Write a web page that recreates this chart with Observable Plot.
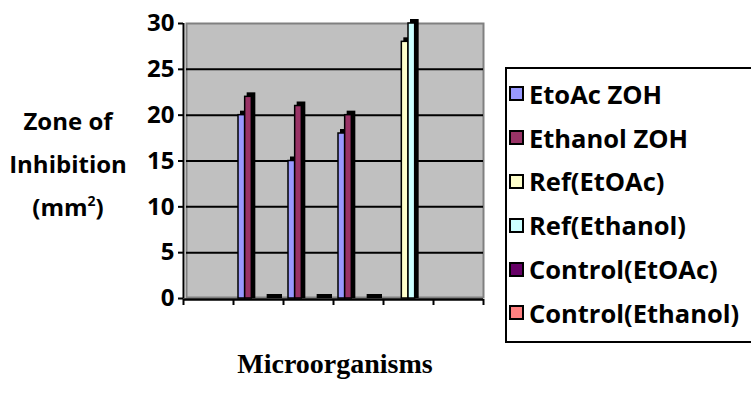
<!DOCTYPE html>
<html>
<head>
<meta charset="utf-8">
<script src="https://cdn.jsdelivr.net/npm/d3@7"></script>
<script src="https://cdn.jsdelivr.net/npm/@observablehq/plot@0.6"></script>
<style>
  html, body { margin: 0; padding: 0; background: #fff; }
  #chart { position: relative; width: 751px; height: 400px; overflow: hidden; background: #fff; font-family: "Open Sans", "DejaVu Sans", sans-serif; }
  #chart svg { position: absolute; left: 0; top: 0; }
  .ytitle { position: absolute; left: 5px; top: 99px; width: 126px; text-align: center; font-weight: bold; font-size: 24px; line-height: 43px; color: #000; }
  .ytitle sup { font-size: 14px; vertical-align: 10px; line-height: 0; }
  .xtitle { position: absolute; left: 185px; width: 300px; top: 348px; text-align: center; font-family: "Liberation Serif", serif; font-weight: bold; font-size: 28px; color: #000; }
  .legend { position: absolute; left: 505px; top: 67px; width: 260px; height: 276px; border: 2px solid #000; box-sizing: border-box; padding: 3px 0 0 2px; }
  .legend .item { display: flex; align-items: center; height: 43.8px; font-weight: bold; font-size: 25.5px; color: #000; white-space: nowrap; }
  .legend .sw { width: 11px; height: 11px; border: 2px solid #000; margin-right: 5px; flex: none; }
</style>
</head>
<body>
<div id="chart">
  <div class="ytitle">Zone of<br>Inhibition<br>(mm<sup>2</sup>)</div>
  <div class="xtitle">Microorganisms</div>
  <div class="legend" id="legend"></div>
</div>
<script>
// Six microorganism groups along the x axis (unlabelled on the chart)
const categories = ["", "", "", "", "", ""];

// Series names and their fill colours
const series = ["EtoAc ZOH", "Ethanol ZOH", "Ref(EtOAc)", "Ref(Ethanol)", "Control(EtOAc)", "Control(Ethanol)"];
const seriesColors = ["#9999ff", "#993366", "#ffffcc", "#ccffff", "#660066", "#ff8080"];

// Zone of inhibition per group (null = no bar in that group)
const etoacZoh       = [null, 20, 15, 18, null, null];
const ethanolZoh     = [null, 22, 21, 20, null, null];
const refEtoac       = [null, null, null, null, 28, null];
const refEthanol     = [null, null, null, null, 30, null];
const controlEtoac   = [null, 0, 0, 0, null, null];
const controlEthanol = [null, 0, 0, 0, null, null];

const yTicks = [0, 5, 10, 15, 20, 25, 30];

const seriesValues = [etoacZoh, ethanolZoh, refEtoac, refEthanol, controlEtoac, controlEthanol];
const rows = [];
seriesValues.forEach((vals, s) => {
  vals.forEach((v, c) => {
    if (v !== null) rows.push({c, s, name: series[s], value: v});
  });
});

// Clustered layout: six slots per group, with a 150% gap split on both sides
const slots = series.length + 1.5;
const left = d => d.c + (0.75 + d.s) / slots;
const right = d => d.c + (1.75 + d.s) / slots;

const chart = Plot.plot({
  width: 751,
  height: 400,
  marginLeft: 183,
  marginRight: 268,
  marginTop: 23,
  marginBottom: 102,
  style: {fontFamily: "'Open Sans', sans-serif", color: "#000", background: "transparent"},
  x: {type: "linear", domain: [0, categories.length]},
  y: {domain: [0, 30]},
  color: {domain: series, range: seriesColors},
  marks: [
    // back wall
    Plot.frame({fill: "#c0c0c0", stroke: "#808080", strokeWidth: 2, insetLeft: 3, insetBottom: 1}),
    Plot.ruleY(yTicks.filter(t => t > 0 && t < 30), {stroke: "#000", strokeWidth: 2, insetLeft: 3}),
    // bar depth (kept at least a few pixels tall so empty controls still show)
    Plot.rect(rows, {x1: left, x2: right, y1: 0, y2: "value", fill: "#000", stroke: "#000", strokeWidth: 2, dx: 3, dy: -2, insetTop: -1, insetBottom: -1}),
    // bar faces
    Plot.rect(rows.filter(d => d.value > 0), {x1: left, x2: right, y1: 0, y2: "value", fill: "name", stroke: "#000", strokeWidth: 1.5}),
    // axes
    Plot.ruleX([0], {stroke: "#000", strokeWidth: 2}),
    Plot.ruleY([0], {stroke: "#000", strokeWidth: 2.5, dy: 1}),
    Plot.axisY(yTicks, {tickSize: 5, tickPadding: 4, strokeWidth: 2, fontSize: 24, fontWeight: "bold", label: null}),
    Plot.axisX(d3.range(categories.length + 1), {tickSize: 6, strokeWidth: 2, tickFormat: () => "", label: null, dy: 1})
  ]
});
document.getElementById("chart").prepend(chart);

const legend = document.getElementById("legend");
series.forEach((name, i) => {
  const item = document.createElement("div");
  item.className = "item";
  const sw = document.createElement("span");
  sw.className = "sw";
  sw.style.background = seriesColors[i];
  item.appendChild(sw);
  item.appendChild(document.createTextNode(name));
  legend.appendChild(item);
});
</script>
</body>
</html>
